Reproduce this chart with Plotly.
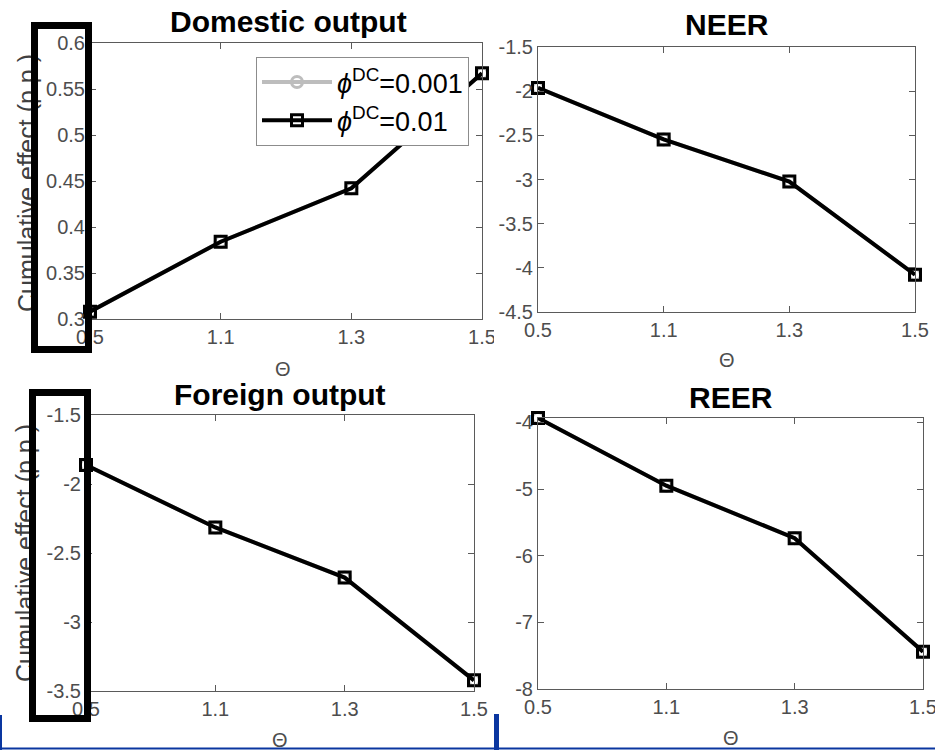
import plotly.graph_objects as go

W, H = 935, 750

theta = ["0.5", "1.1", "1.3", "1.5"]

dom_001 = [0.308, 0.384, 0.442, 0.567]
dom_01 = [0.308, 0.384, 0.442, 0.567]
neer_001 = [-1.963, -2.546, -3.024, -4.078]
neer_01 = [-1.963, -2.546, -3.024, -4.078]
for_001 = [-1.863, -2.315, -2.678, -3.423]
for_01 = [-1.863, -2.315, -2.678, -3.423]
reer_001 = [-3.935, -4.95, -5.737, -7.44]
reer_01 = [-3.935, -4.95, -5.737, -7.44]

titles = ["Domestic output", "NEER", "Foreign output", "REER"]
ylabel = "Cumulative effect (p.p.)"
xlabel = "Θ"
legend_names = ["<i>ϕ</i><sup>DC</sup>=0.001", "<i>ϕ</i><sup>DC</sup>=0.01"]

dom_ticks = [0.3, 0.35, 0.4, 0.45, 0.5, 0.55, 0.6]
neer_ticks = [-4.5, -4, -3.5, -3, -2.5, -2, -1.5]
for_ticks = [-3.5, -3, -2.5, -2, -1.5]
reer_ticks = [-8, -7, -6, -5, -4]

def px(x):
    return x / W

def py(y):
    return 1 - y / H

# panel boxes in pixels (left, right, top, bottom)
boxes = [(90, 482, 43, 319), (538, 915, 47, 312), (86, 474, 415, 691), (538, 923, 418, 689)]
yranges = [[0.3, 0.6], [-4.5, -1.5], [-3.5, -1.5], [-8, -3.935]]
yticks = [dom_ticks, neer_ticks, for_ticks, reer_ticks]
series = [(dom_001, dom_01), (neer_001, neer_01), (for_001, for_01), (reer_001, reer_01)]

fig = go.Figure()
axcolor = "#5a5a5a"
tickfont = dict(family="Liberation Sans, Arial, sans-serif", size=20, color="#4d4d4d")

for i, (box, yr, yt, (s1, s2)) in enumerate(zip(boxes, yranges, yticks, series)):
    n = "" if i == 0 else str(i + 1)
    xa = "x" + n
    ya = "y" + n
    fig.add_trace(go.Scatter(
        x=theta, y=s1, xaxis=xa, yaxis=ya, mode="lines+markers",
        name=legend_names[0], showlegend=(i == 0), cliponaxis=False,
        line=dict(color="#bdbdbd", width=4),
        marker=dict(symbol="circle-open", size=11, color="#bdbdbd", line=dict(width=3, color="#bdbdbd")),
    ))
    fig.add_trace(go.Scatter(
        x=theta, y=s2, xaxis=xa, yaxis=ya, mode="lines+markers",
        name=legend_names[1], showlegend=(i == 0), cliponaxis=False,
        line=dict(color="black", width=4),
        marker=dict(symbol="square-open", size=11, color="black", line=dict(width=3, color="black")),
    ))
    l, r, t, b = box
    fig.layout["xaxis" + n] = dict(
        domain=[px(l), px(r)], anchor=ya, type="category", range=[0, 3], automargin=False,
        showline=True, linecolor=axcolor, linewidth=1, mirror="ticks",
        ticks="inside", ticklen=6, tickcolor=axcolor, showgrid=False, zeroline=False,
        tickfont=tickfont,
    )
    fig.layout["yaxis" + n] = dict(
        domain=[py(b), py(t)], anchor=xa, range=yr, tickvals=yt, automargin=False,
        ticktext=[("%g" % v) for v in yt],
        showline=True, linecolor=axcolor, linewidth=1, mirror="ticks",
        ticks="inside", ticklen=6, tickcolor=axcolor, showgrid=False, zeroline=False,
        tickfont=tickfont,
    )

annotations = []
title_pos = [(288, 22), (727, 25), (280, 395), (731, 397)]
for txt, (x, y) in zip(titles, title_pos):
    annotations.append(dict(text="<b>%s</b>" % txt, x=px(x), y=py(y), xref="paper", yref="paper",
                            xanchor="center", yanchor="middle", showarrow=False,
                            font=dict(family="Liberation Sans, Arial, sans-serif", size=30, color="black")))
xl_pos = [(283, 369), (727, 360), (280, 740), (731, 738)]
for (x, y) in xl_pos:
    annotations.append(dict(text=xlabel, x=px(x), y=py(y), xref="paper", yref="paper",
                            xanchor="center", yanchor="middle", showarrow=False,
                            font=dict(family="Liberation Sans, Arial, sans-serif", size=20, color="#4d4d4d")))
yl_pos = [(27, 183), (25, 553)]
for (x, y) in yl_pos:
    annotations.append(dict(text=ylabel, x=px(x), y=py(y), xref="paper", yref="paper", textangle=-90,
                            xanchor="center", yanchor="middle", showarrow=False,
                            font=dict(family="Liberation Sans, Arial, sans-serif", size=25, color="#404040")))
# black highlight boxes over the left y-axes
for (cx, cy, w, h) in [(61.5, 187.5, 47, 317), (60, 555.5, 48, 319)]:
    annotations.append(dict(text=" ", x=px(cx), y=py(cy), xref="paper", yref="paper",
                            xanchor="center", yanchor="middle", showarrow=False,
                            width=w, height=h, borderwidth=7, borderpad=0,
                            bordercolor="black", bgcolor="rgba(0,0,0,0)"))

blue = "#0a36a0"
shapes = [
    dict(type="line", xref="paper", yref="paper", x0=px(1), x1=px(1), y0=py(715), y1=py(750),
         line=dict(color=blue, width=2)),
    dict(type="line", xref="paper", yref="paper", x0=0, x1=1, y0=py(748.5), y1=py(748.5),
         line=dict(color=blue, width=2)),
    dict(type="line", xref="paper", yref="paper", x0=px(496.5), x1=px(496.5), y0=py(714), y1=py(750),
         line=dict(color=blue, width=5)),
    dict(type="rect", xref="paper", yref="paper", x0=px(494), x1=px(520), y0=py(350), y1=py(322),
         fillcolor="white", line=dict(width=0), layer="above"),
]

fig.update_layout(
    width=W, height=H, margin=dict(l=0, r=0, t=0, b=0, autoexpand=False),
    paper_bgcolor="white", plot_bgcolor="white",
    annotations=annotations, shapes=shapes,
    legend=dict(x=px(256), y=py(57), xanchor="left", yanchor="top", xref="paper", yref="paper",
                bgcolor="white", bordercolor="#8c8c8c", borderwidth=1,
                font=dict(family="Liberation Sans, Arial, sans-serif", size=27, color="black"),
                itemwidth=70, tracegroupgap=0),
    showlegend=True,
)

fig.write_html("out.html", config={"displayModeBar": False},
               post_script="document.body.style.margin='0';document.body.style.overflow='hidden';")
